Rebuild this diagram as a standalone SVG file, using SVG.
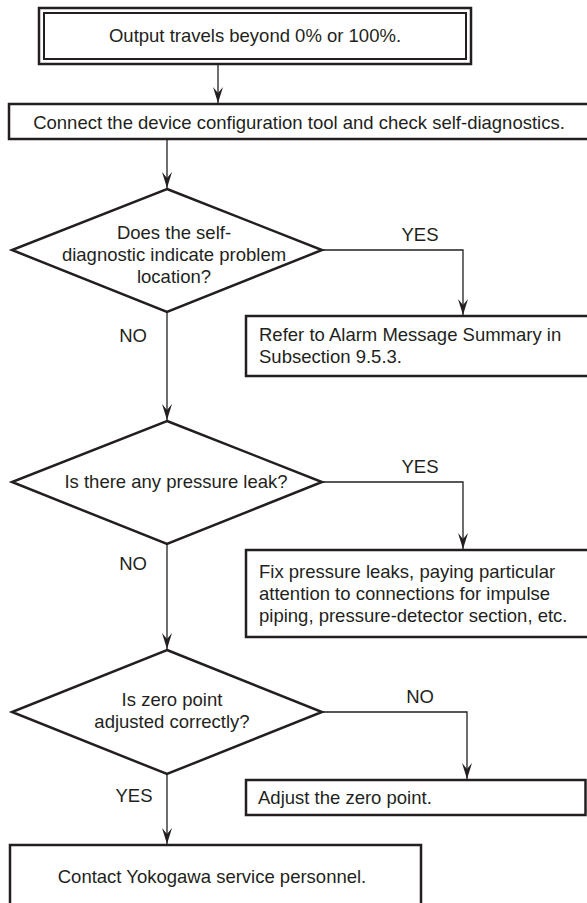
<svg xmlns="http://www.w3.org/2000/svg" width="587" height="903" viewBox="0 0 587 903">
<defs>
<marker id="ah" viewBox="-17 -6 18 12" markerWidth="18" markerHeight="12" refX="0" refY="0" orient="auto" markerUnits="userSpaceOnUse">
<path d="M0,0 L-16,-5 L-10,0 L-16,5 Z" fill="#231f20"/>
</marker>
</defs>
<style>
.box{fill:#fff;stroke:#231f20;stroke-width:2.5}
.dia{fill:#fff;stroke:#231f20;stroke-width:2.5;stroke-linejoin:miter}
.con{fill:none;stroke:#231f20;stroke-width:1.3}
text{font-family:"Liberation Sans",Arial,sans-serif;font-size:18.5px;fill:#231f20}
.c{text-anchor:middle}
</style>
<rect width="587" height="903" fill="#fff"/>
<g id="connectors">
<path class="con" d="M218,64 V103" marker-end="url(#ah)"/>
<path class="con" d="M167,139 V188" marker-end="url(#ah)"/>
<path class="con" d="M322,250 H463 V315" marker-end="url(#ah)"/>
<path class="con" d="M167,312 V420" marker-end="url(#ah)"/>
<path class="con" d="M322,482 H463 V549" marker-end="url(#ah)"/>
<path class="con" d="M167,544 V649" marker-end="url(#ah)"/>
<path class="con" d="M322,712 H467 V779" marker-end="url(#ah)"/>
<path class="con" d="M167,774 V844" marker-end="url(#ah)"/>
<text class="c" x="420" y="241">YES</text>
<text class="c" x="133" y="342">NO</text>
<text class="c" x="420" y="473">YES</text>
<text class="c" x="133" y="570">NO</text>
<text class="c" x="420" y="703">NO</text>
<text class="c" x="134" y="802">YES</text>
</g>
<g id="start">
<rect class="box" x="39" y="8" width="432" height="56"/>
<rect x="44" y="13" width="422" height="46" fill="none" stroke="#231f20" stroke-width="2"/>
<text class="c" x="255" y="42">Output travels beyond 0% or 100%.</text>
</g>
<g id="connect">
<rect class="box" x="9" y="104" width="585" height="35"/>
<text class="c" x="299" y="129">Connect the device configuration tool and check self-diagnostics.</text>
</g>
<g id="q1">
<polygon class="dia" points="167,189 322,250 167,312 12,250"/>
<text class="c" x="174" y="239">Does the self-</text>
<text class="c" x="174" y="261">diagnostic indicate problem</text>
<text class="c" x="174" y="283">location?</text>
</g>
<g id="refer">
<rect class="box" x="246" y="316" width="345" height="60"/>
<text x="259" y="341">Refer to Alarm Message Summary in</text>
<text x="259" y="363">Subsection 9.5.3.</text>
</g>
<g id="q2">
<polygon class="dia" points="167,421 322,482 167,544 12,482"/>
<text class="c" x="176" y="488">Is there any pressure leak?</text>
</g>
<g id="fix">
<rect class="box" x="246" y="550" width="345" height="87"/>
<text x="259" y="578">Fix pressure leaks, paying particular</text>
<text x="259" y="600">attention to connections for impulse</text>
<text x="259" y="622">piping, pressure-detector section, etc.</text>
</g>
<g id="q3">
<polygon class="dia" points="167,650 322,712 167,774 12,712"/>
<text class="c" x="172" y="706">Is zero point</text>
<text class="c" x="172" y="728">adjusted correctly?</text>
</g>
<g id="adjust">
<rect class="box" x="246" y="780" width="339.5" height="35"/>
<text x="258" y="804">Adjust the zero point.</text>
</g>
<g id="contact">
<rect class="box" x="10" y="845" width="411" height="66"/>
<text class="c" x="212" y="883">Contact Yokogawa service personnel.</text>
</g>
</svg>
